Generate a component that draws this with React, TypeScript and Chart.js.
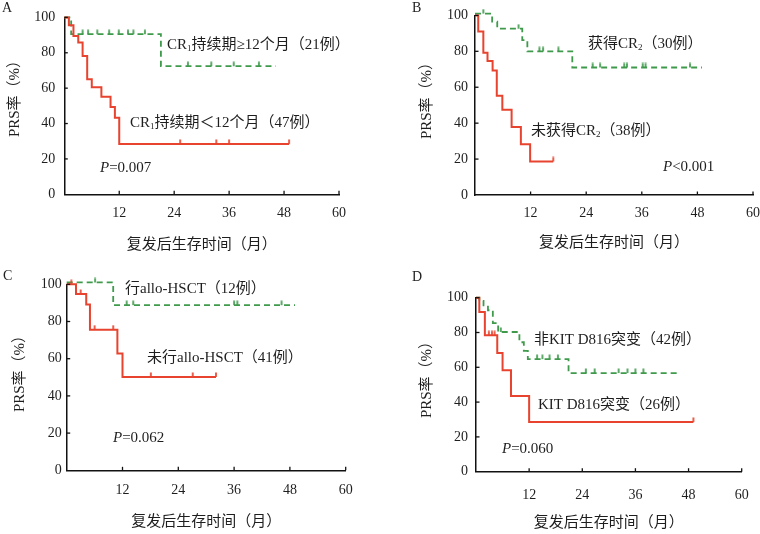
import React, { useEffect, useRef } from 'react';
import { Chart, registerables } from 'chart.js';

Chart.register(...registerables);

// ---------- Data (Kaplan-Meier steps) ----------
// Panel A
const aRedTimes = [0, 1.0, 2.0, 3.05, 4.0, 5.0, 6.0, 8.1, 10.1, 11.05, 12.0, 49.1];
const aRedSurv = [100, 95.5, 89.5, 85.8, 78.2, 65.0, 60.5, 55.2, 49.3, 43.3, 28.5, 28.5];
const aRedCensor = [25.3, 33.2, 36.0, 49.1];
const aGreenTimes = [0, 1.5, 21.1, 46.2];
const aGreenSurv = [100, 90.5, 72.4, 72.4];
const aGreenCensor = [4.0, 5.2, 7.2, 9.8, 11.9, 13.9, 15.1, 17.6, 27.0, 32.1, 37.0, 42.5];

// Panel B
const bRedTimes = [0, 0.7, 1.8, 2.7, 3.8, 4.7, 5.9, 7.9, 9.9, 11.9, 16.9];
const bRedSurv = [100, 91.0, 79.2, 74.6, 69.3, 55.2, 47.4, 37.9, 28.3, 18.7, 18.7];
const bRedCensor = [16.9];
const bGreenTimes = [0, 3.7, 4.8, 10.2, 11.3, 21.0, 49.0];
const bGreenSurv = [101, 96.5, 92.6, 86.2, 80.0, 71.0, 71.0];
const bGreenCensor = [1.8, 9.4, 13.9, 14.7, 18.0, 25.4, 27.0, 32.2, 32.8, 36.2, 36.8, 46.4];

// Panel C
const cRedTimes = [0, 2.0, 4.2, 5.0, 10.9, 12.0, 32.1];
const cRedSurv = [100, 94.8, 89.1, 75.6, 62.8, 50.2, 50.2];
const cRedCensor = [1.0, 3.0, 6.0, 10.0, 18.1, 27.1, 32.1];
const cGreenTimes = [0, 10.0, 49.1];
const cGreenSurv = [101, 88.8, 88.8];
const cGreenCensor = [6.1, 12.9, 14.3, 36.0, 36.7, 46.2];

// Panel D
const dRedTimes = [0, 0.75, 2.0, 4.8, 6.0, 7.9, 12.0, 49.1];
const dRedSurv = [100, 91.8, 78.4, 68.2, 58.3, 43.5, 28.6, 28.6];
const dRedCensor = [2.9, 3.6, 4.2, 49.1];
const dGreenTimes = [0, 0.75, 1.7, 2.7, 3.8, 5.0, 9.8, 10.8, 11.7, 20.9, 46.2];
const dGreenSurv = [100, 98.2, 95.6, 92.8, 85.4, 80.3, 74.4, 69.4, 64.7, 56.7, 56.7];
const dGreenCensor = [5.6, 13.8, 15.0, 16.6, 18.5, 24.8, 26.8, 32.2, 34.2, 36.0, 37.8];

// Axis ticks
const xMin = 0;
const xMax = 60;
const xStep = 12;
const yMin = 0;
const yMax = 100;
const yStep = 20;

const xTitleText = '复发后生存时间（月）';
const yTitleText = 'PRS率（%）';

// ---------- Styles ----------
const RED = '#e8432e';
const GREEN = '#3f9a4c';
const INK = '#1e1e1e';
const SERIF = '"Liberation Serif", "Times New Roman", "Noto Sans CJK SC", serif';

type Seg = { t: string; italic?: boolean; sub?: boolean };
type Label = { x: number; y: number; segs: Seg[] };

function fontStr(size: number, italic = false) {
  return `${italic ? 'italic ' : ''}${size}px ${SERIF}`;
}

function drawRich(ctx: CanvasRenderingContext2D, segs: Seg[], x: number, y: number, size: number, align: 'left' | 'center' = 'left') {
  const widths = segs.map((s) => {
    ctx.font = fontStr(s.sub ? size * 0.6 : size, s.italic);
    return ctx.measureText(s.t).width;
  });
  const total = widths.reduce((a, b) => a + b, 0);
  let cx = align === 'center' ? x - total / 2 : x;
  ctx.textBaseline = 'middle';
  ctx.textAlign = 'left';
  segs.forEach((s, i) => {
    ctx.font = fontStr(s.sub ? size * 0.6 : size, s.italic);
    ctx.fillText(s.t, cx, s.sub ? y + size * 0.22 : y);
    cx += widths[i];
  });
}

function survAt(times: number[], surv: number[], t: number) {
  let v = surv[0];
  for (let i = 0; i < times.length; i++) {
    if (times[i] <= t) v = surv[i];
  }
  return v;
}

function makeCensorImage(color: string) {
  const c = document.createElement('canvas');
  c.width = 4;
  c.height = 10;
  const g = c.getContext('2d')!;
  g.strokeStyle = color;
  g.lineWidth = 1.7;
  g.beginPath();
  g.moveTo(2, 0.5);
  g.lineTo(2, 5);
  g.stroke();
  return c;
}

type Series = { times: number[]; surv: number[]; censor: number[] };

type Panel = {
  key: string;
  ox: number;
  oy: number;
  W: number;
  H: number;
  area: { left: number; right: number; top: number; bottom: number };
  yPad: number;
  xPad: number;
  xTitlePad: number;
  letter: { x: number; y: number };
  yTitle: { x: number; y: number };
  labels: Label[];
  red: Series;
  green: Series;
};

const panels: Panel[] = [
  {
    key: 'A', ox: 0, oy: 0, W: 380, H: 267,
    area: { left: 64.3, right: 339, top: 13.3, bottom: 194.3 },
    yPad: 9, xPad: 10.5, xTitlePad: 13,
    letter: { x: 2, y: 8 },
    yTitle: { x: 15, y: 95 },
    labels: [
      { x: 167, y: 45, segs: [{ t: 'CR' }, { t: '1', sub: true }, { t: '持续期≥12个月（21例）' }] },
      { x: 130, y: 123, segs: [{ t: 'CR' }, { t: '1', sub: true }, { t: '持续期＜12个月（47例）' }] },
      { x: 100, y: 168, segs: [{ t: 'P', italic: true }, { t: '=0.007' }] },
    ],
    red: { times: aRedTimes, surv: aRedSurv, censor: aRedCensor },
    green: { times: aGreenTimes, surv: aGreenSurv, censor: aGreenCensor },
  },
  {
    key: 'B', ox: 380, oy: 0, W: 400, H: 267,
    area: { left: 95, right: 373, top: 12.3, bottom: 195 },
    yPad: 7, xPad: 9.5, xTitlePad: 15,
    letter: { x: 32, y: 8 },
    yTitle: { x: 47.5, y: 97 },
    labels: [
      { x: 208, y: 44, segs: [{ t: '获得CR' }, { t: '2', sub: true }, { t: '（30例）' }] },
      { x: 151, y: 131, segs: [{ t: '未获得CR' }, { t: '2', sub: true }, { t: '（38例）' }] },
      { x: 283, y: 167, segs: [{ t: 'P', italic: true }, { t: '<0.001' }] },
    ],
    red: { times: bRedTimes, surv: bRedSurv, censor: bRedCensor },
    green: { times: bGreenTimes, surv: bGreenSurv, censor: bGreenCensor },
  },
  {
    key: 'C', ox: 0, oy: 267, W: 380, H: 267,
    area: { left: 66.7, right: 345.7, top: 17.3, bottom: 203.3 },
    yPad: 5, xPad: 11.5, xTitlePad: 3,
    letter: { x: 3, y: 9 },
    yTitle: { x: 20, y: 103 },
    labels: [
      { x: 125, y: 21.7, segs: [{ t: '行allo-HSCT（12例）' }] },
      { x: 147, y: 90.7, segs: [{ t: '未行allo-HSCT（41例）' }] },
      { x: 113, y: 170.7, segs: [{ t: 'P', italic: true }, { t: '=0.062' }] },
    ],
    red: { times: cRedTimes, surv: cRedSurv, censor: cRedCensor },
    green: { times: cGreenTimes, surv: cGreenSurv, censor: cGreenCensor },
  },
  {
    key: 'D', ox: 380, oy: 267, W: 400, H: 267,
    area: { left: 96, right: 361.7, top: 30.7, bottom: 204.7 },
    yPad: 8, xPad: 15, xTitlePad: 1.5,
    letter: { x: 32, y: 10 },
    yTitle: { x: 47.5, y: 109 },
    labels: [
      { x: 154, y: 73.3, segs: [{ t: '非KIT D816突变（42例）' }] },
      { x: 158, y: 138.3, segs: [{ t: 'KIT D816突变（26例）' }] },
      { x: 122, y: 181.7, segs: [{ t: 'P', italic: true }, { t: '=0.060' }] },
    ],
    red: { times: dRedTimes, surv: dRedSurv, censor: dRedCensor },
    green: { times: dGreenTimes, surv: dGreenSurv, censor: dGreenCensor },
  },
];

function makeOverlay(p: Panel) {
  return {
    id: 'kmOverlay' + p.key,
    afterDraw(chart: any) {
      const ctx: CanvasRenderingContext2D = chart.ctx;
      const xs = chart.scales.x;
      const ys = chart.scales.y;
      const area = chart.chartArea;
      ctx.save();
      // inward tick marks
      ctx.strokeStyle = '#111';
      ctx.lineWidth = 1.3;
      xs.ticks.forEach((t: any) => {
        if (t.value <= xMin) return;
        const px = xs.getPixelForValue(t.value);
        ctx.beginPath();
        ctx.moveTo(px, area.bottom);
        ctx.lineTo(px, area.bottom - 3.5);
        ctx.stroke();
      });
      ys.ticks.forEach((t: any) => {
        if (t.value <= yMin) return;
        const py = ys.getPixelForValue(t.value);
        ctx.beginPath();
        ctx.moveTo(area.left, py);
        ctx.lineTo(area.left + 3.5, py);
        ctx.stroke();
      });
      ctx.fillStyle = INK;
      // annotations
      p.labels.forEach((l) => drawRich(ctx, l.segs, l.x, l.y, 15));
      // panel letter
      ctx.font = fontStr(14);
      ctx.textAlign = 'left';
      ctx.textBaseline = 'middle';
      ctx.fillText(p.key, p.letter.x, p.letter.y);
      // y title
      ctx.save();
      ctx.translate(p.yTitle.x, p.yTitle.y);
      ctx.rotate(-Math.PI / 2);
      drawRich(ctx, [{ t: yTitleText }], 0, 0, 15, 'center');
      ctx.restore();
      ctx.restore();
    },
  };
}

function KMPanel({ p }: { p: Panel }) {
  const ref = useRef<HTMLCanvasElement | null>(null);
  useEffect(() => {
    if (!ref.current) return;
    const redImg = makeCensorImage(RED);
    const greenImg = makeCensorImage(GREEN);
    const toPts = (s: Series) => s.times.map((t, i) => ({ x: t, y: s.surv[i] }));
    const toCensor = (s: Series) => s.censor.map((t) => ({ x: t, y: survAt(s.times, s.surv, t) }));
    const { area, W, H } = p;
    const chart = new Chart(ref.current, {
      type: 'line',
      data: {
        datasets: [
          {
            label: 'red-censor',
            data: toCensor(p.red),
            showLine: false,
            pointStyle: redImg as any,
            pointRadius: 4,
            clip: false as any,
            order: 0,
          },
          {
            label: 'red',
            data: toPts(p.red),
            borderColor: RED,
            borderWidth: 2,
            pointRadius: 0,
            stepped: 'before',
            fill: false,
            clip: false as any,
            order: 1,
          },
          {
            label: 'green-censor',
            data: toCensor(p.green),
            showLine: false,
            pointStyle: greenImg as any,
            pointRadius: 4,
            clip: false as any,
            order: 2,
          },
          {
            label: 'green',
            data: toPts(p.green),
            borderColor: GREEN,
            borderWidth: 1.8,
            borderDash: [6, 4],
            pointRadius: 0,
            stepped: 'before',
            fill: false,
            clip: false as any,
            order: 3,
          },
        ] as any,
      },
      options: {
        animation: false,
        responsive: false,
        maintainAspectRatio: false,
        events: [],
        layout: { padding: { left: 0, top: area.top, right: W - area.right, bottom: 0 } },
        plugins: {
          legend: { display: false },
          tooltip: { enabled: false },
        },
        scales: {
          x: {
            type: 'linear',
            min: xMin,
            max: xMax,
            afterFit: (s: any) => {
              s.height = H - area.bottom;
            },
            grid: { display: false, drawTicks: false },
            border: { display: true, color: '#111', width: 1.5 },
            ticks: {
              stepSize: xStep,
              autoSkip: false,
              maxRotation: 0,
              padding: p.xPad,
              color: INK,
              font: { family: SERIF, size: 14 },
              callback: (v: any) => (Number(v) === xMin ? '' : String(v)),
            },
            title: {
              display: true,
              text: xTitleText,
              color: INK,
              font: { family: SERIF, size: 15 },
              padding: { top: 0, bottom: p.xTitlePad },
            },
          },
          y: {
            type: 'linear',
            min: yMin,
            max: yMax,
            afterFit: (s: any) => {
              s.width = area.left;
            },
            grid: { display: false, drawTicks: false },
            border: { display: true, color: '#111', width: 1.5 },
            ticks: {
              stepSize: yStep,
              padding: p.yPad,
              color: INK,
              font: { family: SERIF, size: 14 },
            },
          },
        },
      } as any,
      plugins: [makeOverlay(p)],
    });
    return () => chart.destroy();
  }, [p]);
  return (
    <canvas
      ref={ref}
      width={p.W}
      height={p.H}
      style={{ position: 'absolute', left: p.ox, top: p.oy, width: p.W, height: p.H }}
    />
  );
}

export default function App() {
  return (
    <div
      style={{
        position: 'fixed',
        left: 0,
        top: 0,
        width: 760,
        height: 534,
        overflow: 'hidden',
        background: '#ffffff',
      }}
    >
      {panels.map((p) => (
        <KMPanel key={p.key} p={p} />
      ))}
    </div>
  );
}
